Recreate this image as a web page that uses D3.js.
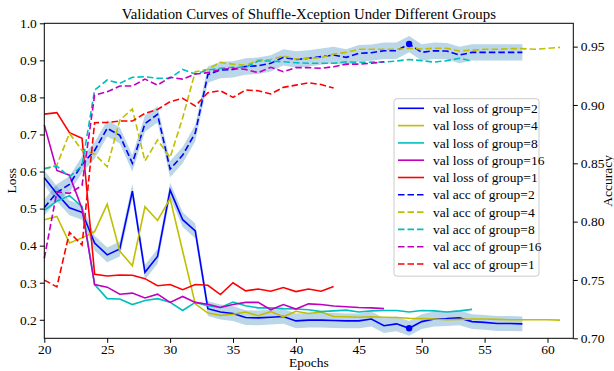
<!DOCTYPE html>
<meta charset="utf-8">
<style>
body { margin: 0; background: #fff; }
svg { font-family: "Liberation Serif", "Times New Roman", serif; }
.axis text { font-size: 13.5px; fill: #000; }
.axis path, .axis line { stroke: #000; stroke-width: 1px; }
.title { font-size: 14.8px; }
.label { font-size: 13.5px; }
.legend text { font-size: 13.5px; }
.line { fill: none; stroke-width: 1.6px; }
.dash { stroke-dasharray: 6.5,3; }
.band { fill: #1f77b4; fill-opacity: 0.3; stroke: none; }
</style>
<svg width="614" height="371"></svg>
<script src="https://d3js.org/d3.v7.min.js"></script>
<script>
// epochs start at 20 for every run
var startEpoch = 20;
var groups = ["2", "4", "8", "16", "1"];
var colors = ["#0000ff", "#bfbf00", "#00bfbf", "#bf00bf", "#ff0000"];

var lossG2 = [0.583, 0.54, 0.502, 0.49, 0.407, 0.375, 0.391, 0.547, 0.328, 0.371,
  0.55, 0.47, 0.44, 0.23, 0.221, 0.217, 0.206, 0.205, 0.207, 0.209,
  0.197, 0.199, 0.199, 0.198, 0.197, 0.197, 0.202, 0.184, 0.189, 0.177,
  0.195, 0.202, 0.203, 0.205, 0.195, 0.193, 0.19, 0.19, 0.189];
var lossG4 = [0.47, 0.479, 0.407, 0.421, 0.438, 0.512, 0.385, 0.346, 0.505, 0.468,
  0.527, 0.385, 0.243, 0.218, 0.212, 0.215, 0.221, 0.211, 0.222, 0.208,
  0.223, 0.217, 0.221, 0.209, 0.208, 0.207, 0.208, 0.207, 0.206, 0.204,
  0.203, 0.202, 0.2, 0.201, 0.202, 0.202, 0.201, 0.2, 0.2, 0.2, 0.2, 0.199];
var lossG8 = [0.495, 0.52, 0.535, 0.505, 0.295, 0.257, 0.256, 0.241, 0.252, 0.257,
  0.247, 0.225, 0.247, 0.238, 0.233, 0.248, 0.238, 0.232, 0.232, 0.23,
  0.229, 0.227, 0.222, 0.224, 0.226, 0.221, 0.224, 0.225, 0.225, 0.221,
  0.225, 0.224, 0.221, 0.224, 0.228];
var lossG16 = [0.726, 0.603, 0.59, 0.5, 0.295, 0.288, 0.269, 0.272, 0.259, 0.269,
  0.247, 0.263, 0.247, 0.242, 0.233, 0.241, 0.247, 0.247, 0.227, 0.241,
  0.229, 0.243, 0.241, 0.237, 0.235, 0.233, 0.232, 0.23];
var lossG1 = [0.755, 0.759, 0.705, 0.69, 0.323, 0.318, 0.321, 0.32, 0.311, 0.292,
  0.295, 0.281, 0.295, 0.293, 0.268, 0.3, 0.278, 0.283, 0.277, 0.287,
  0.276, 0.283, 0.277, 0.29];

var accG2 = [0.812, 0.825, 0.832, 0.849, 0.861, 0.88, 0.874, 0.85, 0.884, 0.892,
  0.845, 0.857, 0.876, 0.926, 0.93, 0.9305, 0.933, 0.9336, 0.9357, 0.9408,
  0.939, 0.94, 0.9414, 0.9428, 0.9408, 0.9443, 0.9448, 0.9465, 0.9465, 0.9522,
  0.9451, 0.9465, 0.9462, 0.9428, 0.9451, 0.9451, 0.9451, 0.9451, 0.9451];
var accG4 = [0.845, 0.8485, 0.8757, 0.861, 0.858, 0.847, 0.887, 0.8965, 0.852, 0.87,
  0.855, 0.889, 0.9285, 0.9305, 0.9365, 0.935, 0.934, 0.9385, 0.939, 0.942,
  0.9394, 0.94, 0.9405, 0.9437, 0.9451, 0.9477, 0.9477, 0.9477, 0.9477, 0.9486,
  0.948, 0.9486, 0.9486, 0.9462, 0.947, 0.9477, 0.9477, 0.9483, 0.9483, 0.9477,
  0.9486, 0.9494];
var accG8 = [0.8456, 0.8476, 0.8384, 0.848, 0.9128, 0.9214, 0.9185, 0.9237, 0.9242, 0.9228,
  0.923, 0.9305, 0.9265, 0.93, 0.9314, 0.9323, 0.9323, 0.9377, 0.9377, 0.937,
  0.9362, 0.9357, 0.9357, 0.9357, 0.937, 0.9365, 0.9367, 0.9367, 0.9377, 0.939,
  0.938, 0.9367, 0.938, 0.94, 0.9377];
var accG16 = [0.7685, 0.8256, 0.8242, 0.831, 0.9085, 0.9113, 0.9162, 0.9162, 0.9222, 0.917,
  0.9237, 0.9222, 0.9265, 0.9277, 0.9305, 0.9314, 0.9305, 0.9277, 0.9323, 0.9285,
  0.932, 0.932, 0.9314, 0.9328, 0.935, 0.935, 0.9357, 0.937];
var accG1 = [0.7499, 0.7441, 0.7908, 0.7799, 0.8848, 0.885, 0.8862, 0.8862, 0.8928, 0.8962,
  0.9028, 0.9057, 0.8991, 0.9105, 0.9122, 0.9065, 0.9128, 0.9122, 0.9094, 0.9151,
  0.917, 0.919, 0.9175, 0.9145];

// shaded spread around the group=2 curves
var lossSpread = 0.02;
var accSpread = 0.007;

var xTicks = [20, 25, 30, 35, 40, 45, 50, 55, 60];
var lossTicks = [0.2, 0.3, 0.4, 0.5, 0.6, 0.7, 0.8, 0.9, 1.0];
var accTicks = [0.70, 0.75, 0.80, 0.85, 0.90, 0.95];

var lossSeries = [lossG2, lossG4, lossG8, lossG16, lossG1];
var accSeries = [accG2, accG4, accG8, accG16, accG1];

var svg = d3.select("svg"),
    plotL = 44.3, plotR = 573.3, plotT = 23.3, plotB = 338.3;

var x = d3.scaleLinear().domain([20, 62.05]).range([plotL, plotR]),
    yLoss = d3.scaleLinear().domain([0.15, 1.0]).range([plotB, plotT]),
    yAcc = d3.scaleLinear().domain([0.70, 0.97]).range([plotB, plotT]);

function toPoints(vals) {
  return vals.map(function(v, i) { return {e: startEpoch + i, v: v}; });
}

// bands first
function band(vals, y, d) {
  return d3.area()
    .x(function(p) { return x(p.e); })
    .y0(function(p) { return y(p.v - d); })
    .y1(function(p) { return y(p.v + d); })(toPoints(vals));
}
svg.append("path").attr("class", "band").attr("d", band(lossG2, yLoss, lossSpread));
svg.append("path").attr("class", "band").attr("d", band(accG2, yAcc, accSpread));

function lineFor(y) {
  return d3.line().x(function(p) { return x(p.e); }).y(function(p) { return y(p.v); });
}

lossSeries.forEach(function(s, i) {
  svg.append("path").attr("class", "line")
    .attr("stroke", colors[i])
    .attr("d", lineFor(yLoss)(toPoints(s)));
});
accSeries.forEach(function(s, i) {
  svg.append("path").attr("class", "line dash")
    .attr("stroke", colors[i])
    .attr("d", lineFor(yAcc)(toPoints(s)));
});

// best-epoch markers of group=2
var bestLoss = d3.minIndex(lossG2), bestAcc = d3.maxIndex(accG2);
svg.append("circle").attr("cx", x(startEpoch + bestLoss)).attr("cy", yLoss(lossG2[bestLoss]))
  .attr("r", 3.2).attr("fill", colors[0]);
svg.append("circle").attr("cx", x(startEpoch + bestAcc)).attr("cy", yAcc(accG2[bestAcc]))
  .attr("r", 3.2).attr("fill", colors[0]);

// frame
svg.append("rect").attr("x", plotL).attr("y", plotT)
  .attr("width", plotR - plotL).attr("height", plotB - plotT)
  .attr("fill", "none").attr("stroke", "#000").attr("stroke-width", 1);

function plain(g) {
  g.select(".domain").remove();
  g.attr("font-family", null).attr("font-size", null);
}

svg.append("g").attr("class", "axis")
  .attr("transform", "translate(0," + plotB + ")")
  .call(d3.axisBottom(x).tickValues(xTicks).tickSize(4.5).tickPadding(1.5).tickFormat(d3.format("d")))
  .call(plain);

svg.append("g").attr("class", "axis")
  .attr("transform", "translate(" + plotL + ",0)")
  .call(d3.axisLeft(yLoss).tickValues(lossTicks).tickSize(4.5).tickPadding(3).tickFormat(d3.format(".1f")))
  .call(plain);

svg.append("g").attr("class", "axis")
  .attr("transform", "translate(" + plotR + ",0)")
  .call(d3.axisRight(yAcc).tickValues(accTicks).tickSize(4.5).tickPadding(3).tickFormat(d3.format(".2f")))
  .call(plain);

svg.append("text").attr("class", "title")
  .attr("x", (plotL + plotR) / 2).attr("y", 18.5)
  .attr("text-anchor", "middle")
  .text("Validation Curves of Shuffle-Xception Under Different Groups");

svg.append("text").attr("class", "label")
  .attr("x", (plotL + plotR) / 2).attr("y", 366.5)
  .attr("text-anchor", "middle").text("Epochs");

svg.append("text").attr("class", "label")
  .attr("transform", "translate(15.5," + (plotT + plotB) / 2 + ") rotate(-90)")
  .attr("text-anchor", "middle").text("Loss");

svg.append("text").attr("class", "label")
  .attr("transform", "translate(611.5," + (plotT + plotB) / 2 + ") rotate(-90)")
  .attr("text-anchor", "middle").text("Accuracy");

// legend
var legend = svg.append("g").attr("class", "legend").attr("transform", "translate(394,98.7)");
legend.append("rect").attr("width", 145).attr("height", 177.5).attr("rx", 3)
  .attr("fill", "#fff").attr("fill-opacity", 0.8).attr("stroke", "#ccc").attr("stroke-width", 1);

var entries = groups.map(function(g, i) { return {name: "val loss of group=" + g, color: colors[i], dash: false}; })
  .concat(groups.map(function(g, i) { return {name: "val acc of group=" + g, color: colors[i], dash: true}; }));

var item = legend.selectAll(".item").data(entries).enter().append("g")
  .attr("transform", function(d, i) { return "translate(0," + (9.6 + i * 17.3) + ")"; });
item.append("line").attr("x1", 4).attr("x2", 30)
  .attr("class", function(d) { return d.dash ? "line dash" : "line"; })
  .attr("stroke", function(d) { return d.color; });
item.append("text").attr("x", 39).attr("y", 4.6).text(function(d) { return d.name; });
</script>
